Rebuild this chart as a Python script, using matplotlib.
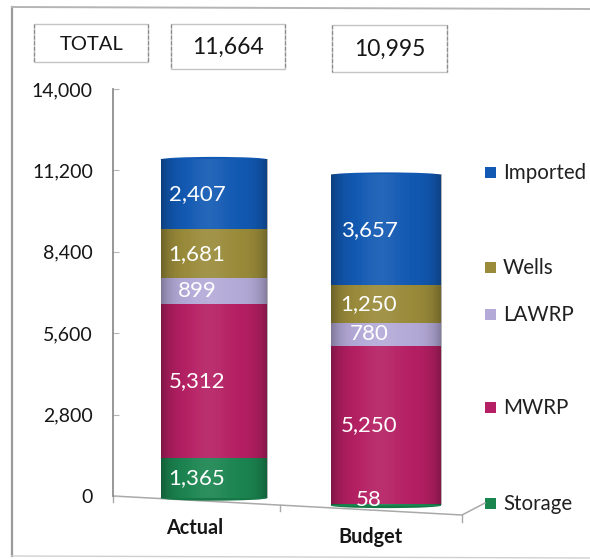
import numpy as np
import matplotlib
matplotlib.use("Agg")
import matplotlib.pyplot as plt
from matplotlib.patches import Ellipse, Rectangle

plt.rcParams['font.family'] = ['Lato', 'DejaVu Sans']

categories = ['Actual', 'Budget']
series_names = ['Storage', 'MWRP', 'LAWRP', 'Wells', 'Imported']
actual_values = [1365, 5312, 899, 1681, 2407]
budget_values = [58, 5250, 780, 1250, 3657]
totals = ['11,664', '10,995']
y_ticks = [0, 2800, 5600, 8400, 11200, 14000]
colors = ['#1b8550', '#b51f63', '#b4aad8', '#9a8b3a', '#1259b3']

W, H = 590, 559
fig = plt.figure(figsize=(W / 100, H / 100), dpi=100, facecolor='white')

def px_axes(l, t, r, b, **kw):
    return fig.add_axes([l / W, 1 - b / H, (r - l) / W, (b - t) / H], **kw)

# canvas overlay in pixel coordinates
bg = px_axes(0, 0, W, H)
bg.set_xlim(0, W); bg.set_ylim(H, 0); bg.axis('off')
frame = '#9a9a9a'
bg.plot([12, 12], [7, 556], color=frame, lw=1.6)
bg.plot([12, 590], [7, 9], color='#b5b5b5', lw=1.4)
bg.plot([12, 590], [556, 558], color='#d0d0d0', lw=1.0)
for (l, t, r, b, txt, fs, tx) in [(34, 24, 148, 62, 'TOTAL', 14.5, 92),
                                  (171, 24, 285, 69, totals[0], 16.5, 228),
                                  (332, 25, 447, 72, totals[1], 16.5, 390)]:
    bg.add_patch(Rectangle((l, t), r - l, b - t, fc='white', ec='#c4c4c4', lw=1.0))
    bg.plot([l, l], [t, b], color='#8c8c8c', lw=0.9, ls=(0, (3, 1.5)))
    bg.plot([r, r], [t, b], color='#8c8c8c', lw=0.9, ls=(0, (3, 1.5)))
    bg.text(tx, (t + b) / 2 + 1, txt, ha='center', va='center', fontsize=fs, color='#161616')

# floor of the 3D chart
floor = '#a9a9a9'
bg.plot([113, 462, 485], [496, 515, 503], color=floor, lw=1.1)
bg.plot([113, 113], [496, 502], color=floor, lw=1.0)
bg.plot([280, 280], [505, 511], color=floor, lw=1.0)
bg.plot([462, 462], [515, 522], color=floor, lw=1.0)

# main value axis
L, R, T, B = 113, 462, 89, 496
ax = px_axes(L, T, R, B, facecolor='none')
ax.set_xlim(-0.587, 1.442)
ax.set_ylim(0, 14000)
for s in ['top', 'right', 'bottom']:
    ax.spines[s].set_visible(False)
ax.spines['left'].set_color('#8f8f8f')
ax.spines['left'].set_linewidth(1.3)
ax.set_yticks(y_ticks)
ax.set_yticklabels([f'{v:,}' for v in y_ticks], fontsize=14, color='#161616', va='center_baseline')
ax.tick_params(axis='y', direction='in', length=4.5, color='#b5b5b5', pad=14.5)
ax.set_xticks([])

grad = np.zeros((1, 256, 4))
xx = np.linspace(-1, 1, 256)
grad[0, :, 3] = np.clip(np.abs(xx) ** 5 * 0.30, 0, 1)
glow = np.ones((1, 256, 4))
glow[0, :, 3] = np.clip(0.08 * np.exp(-((xx + 0.1) / 0.35) ** 2), 0, 1)

CB = 520  # column axes extend below the floor so the bars are not cut

def column(pos, values, base_px, top_px, width):
    a = px_axes(L, T, R, CB, facecolor='none')
    a.axis('off')
    scale = (base_px - top_px) / sum(values)
    xl = ax.get_xlim()
    yl = ((base_px - CB) / scale, (base_px - T) / scale)
    a.set_xlim(xl)
    a.set_ylim(yl)
    cap = 2.6 / scale * 2
    bottom = 0
    a.add_patch(Ellipse((pos, 0), width, cap, fc=colors[0], ec='none', zorder=1))
    a.add_patch(Ellipse((pos, 0), width, cap, fc='#0c5a36', ec='none', alpha=.35, zorder=1))
    a.add_patch(Ellipse((pos, sum(values)), width, cap, fc=colors[-1], ec='none', zorder=2))
    for v, c in zip(values, colors):
        a.bar(pos, v, width, bottom=bottom, color=c, zorder=2, lw=0)
        off = 5 if v < 200 else 0
        a.annotate(f'{v:,}', (pos, bottom + v / 2), xytext=(-17 * 0.72, off * 0.72),
                   textcoords='offset points', ha='center', va='center',
                   fontsize=16, color='white', zorder=6)
        bottom += v
    ext = (pos - width / 2, pos + width / 2, 0, sum(values))
    a.imshow(glow, extent=ext, aspect='auto', zorder=3, interpolation='bilinear')
    a.imshow(grad, extent=ext, aspect='auto', zorder=3, interpolation='bilinear')
    a.set_xlim(xl)
    a.set_ylim(yl)

column(0, actual_values, 498, 159.5, 0.62)
column(1, budget_values, 505.5, 175, 0.64)

# category labels
bg.text(195, 528, categories[0], ha='center', va='center', fontsize=14.3, fontweight='bold', color='#161616')
bg.text(370, 537, categories[1], ha='center', va='center', fontsize=14.3, fontweight='bold', color='#161616')

# legend
legend_y = {'Imported': 172, 'Wells': 267, 'LAWRP': 314, 'MWRP': 407, 'Storage': 503}
for name, c in zip(series_names, colors):
    y = legend_y[name]
    bg.add_patch(Rectangle((485, y - 5), 11, 11, fc=c, ec='none'))
    bg.text(503, y + 1, name, ha='left', va='center', fontsize=14.8, color='#202020')

fig.savefig('out.png', dpi=100)
